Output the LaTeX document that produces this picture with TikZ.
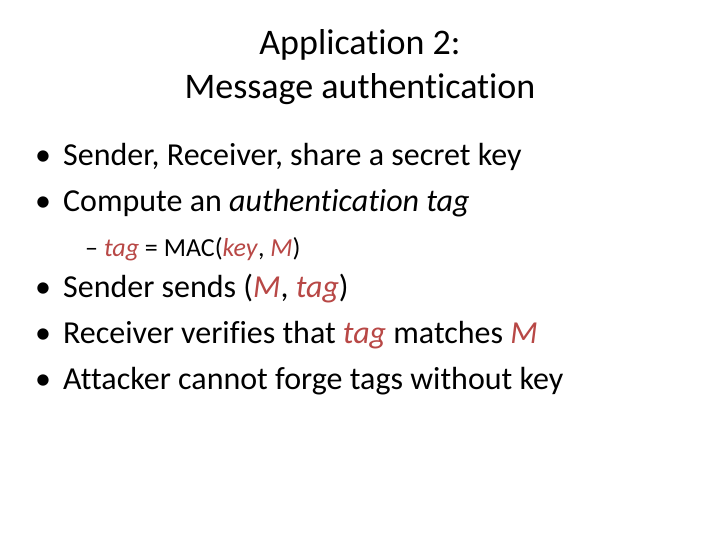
\documentclass[tikz,border=0pt]{standalone}
\usepackage{fontspec}
\setmainfont[Ligatures=NoCommon]{Carlito}
\definecolor{accent}{RGB}{184,72,70}
\begin{document}
\begin{tikzpicture}[x=1pt,y=1pt,
  title/.style={anchor=base,font=\fontsize{36}{42}\selectfont},
  item/.style={anchor=base west,font=\fontsize{32}{38}\selectfont,inner sep=0},
  subitem/.style={anchor=base west,font=\fontsize{26}{31}\selectfont,inner sep=0}]
\useasboundingbox (0,0) rectangle (720,540);
\node[title] (t1) at (360,485) {Application 2:};
\node[title] (t2) at (360,441) {Message authentication};
\node[item] (b1) at (35,374) {•\hspace{12pt}Sender, Receiver, share a secret key};
\node[item] (b2) at (35,328) {•\hspace{12pt}Compute an \textit{authentication tag}};
\node[subitem] (s1) at (85,283) {– \textcolor{accent}{\textit{tag}} = MAC(\textcolor{accent}{\textit{key}}, \textcolor{accent}{\textit{M}})};
\node[item] (b3) at (35,242) {•\hspace{12pt}Sender sends (\textcolor{accent}{\textit{M}}, \textcolor{accent}{\textit{tag}})};
\node[item] (b4) at (35,196) {•\hspace{12pt}Receiver verifies that \textcolor{accent}{\textit{tag}} matches \textcolor{accent}{\textit{M}}};
\node[item] (b5) at (35,150) {•\hspace{12pt}Attacker cannot forge tags without key};
\end{tikzpicture}
\end{document}
